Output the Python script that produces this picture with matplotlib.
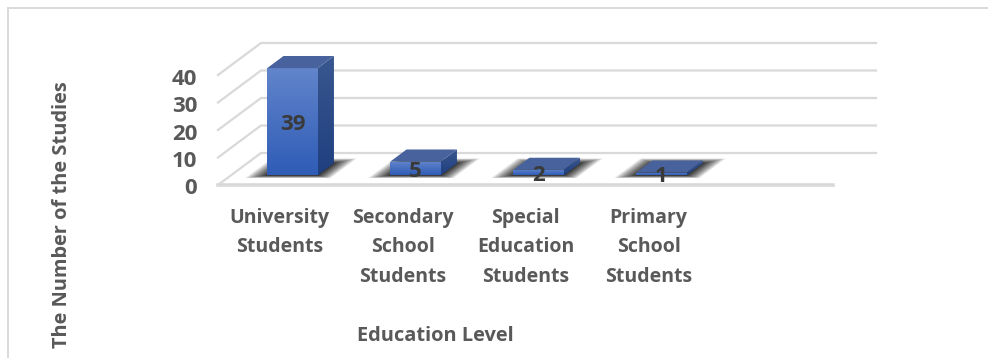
import matplotlib
matplotlib.use("Agg")
import matplotlib.pyplot as plt
import numpy as np
from matplotlib.colors import LinearSegmentedColormap
from matplotlib.lines import Line2D
from matplotlib.patches import Polygon
from matplotlib.transforms import ScaledTranslation

categories = ["University\nStudents", "Secondary\nSchool\nStudents",
              "Special\nEducation\nStudents", "Primary\nSchool\nStudents"]
studies = [39, 5, 2, 1]
y_ticks = [0, 10, 20, 30, 40]

TEXT = "#595959"
GRID = "#d9d9d9"

# oblique depth of the floor, in data units (x categories, y studies)
DEPTH_X = 43 / 123
DEPTH_Y = 32 / 2.75
BAR_W = 0.41
BAR_FRONT = 0.30
BAR_BACK = 0.68

front_cmap = LinearSegmentedColormap.from_list("front", ["#2f5cb6", "#6285cb"])
side_cmap = LinearSegmentedColormap.from_list("side", ["#1f3f7f", "#39578f"])


def proj(x, y, d):
    return x + d * DEPTH_X, y + d * DEPTH_Y


def gradient_face(ax, corners, cmap, z):
    xs = [c[0] for c in corners]
    ys = [c[1] for c in corners]
    im = ax.imshow(np.linspace(1, 0, 64).reshape(-1, 1), cmap=cmap, aspect="auto",
                   extent=(min(xs), max(xs), min(ys), max(ys)), zorder=z)
    # the faces stick out above the axes box because of the depth offset
    im.set_clip_box(ax.figure.bbox)
    im.set_clip_path(Polygon(corners, closed=True, transform=ax.transData))


def draw_shadow(ax, x):
    # soft shadow on the floor: stacked translucent parallelograms, denser near the bar
    for t in np.linspace(1, 0, 36):
        grow = 0.34 * t ** 1.3
        l = x - BAR_W / 2 - grow * 0.45
        r = x + BAR_W / 2 + grow * 0.4
        d0 = BAR_FRONT - grow * 0.25
        d1 = BAR_BACK + grow * 0.45
        pts = [proj(l, 0, d0), proj(r, 0, d0), proj(r, 0, d1), proj(l, 0, d1)]
        ax.add_patch(Polygon(pts, closed=True, fc="#000000", ec="none", alpha=0.04,
                             zorder=2, clip_on=False))


def draw_bar(ax, x, v):
    l, r = x - BAR_W / 2, x + BAR_W / 2
    front = [proj(l, 0, BAR_FRONT), proj(r, 0, BAR_FRONT), proj(r, v, BAR_FRONT), proj(l, v, BAR_FRONT)]
    side = [proj(r, 0, BAR_FRONT), proj(r, 0, BAR_BACK), proj(r, v, BAR_BACK), proj(r, v, BAR_FRONT)]
    top = [proj(l, v, BAR_FRONT), proj(r, v, BAR_FRONT), proj(r, v, BAR_BACK), proj(l, v, BAR_BACK)]
    gradient_face(ax, side, side_cmap, 3)
    gradient_face(ax, front, front_cmap, 3.1)
    ax.add_patch(Polygon(top, closed=True, fc="#47629c", ec="none", zorder=3.2, clip_on=False))
    cx, cy = proj(x, v / 2, BAR_FRONT)
    ax.text(cx, cy, str(v), ha="center", va="center_baseline", fontsize=16, fontweight="bold",
            color="#3a3a3a", zorder=5)


plt.rcParams["font.family"] = ["Open Sans", "DejaVu Sans"]

W, H = 988, 358
fig = plt.figure(figsize=(W / 100, H / 100), dpi=100)
ax = fig.add_axes([218 / W, 1 - 185 / H, 615 / W, 110 / H])
xpos = np.arange(len(categories))

# back wall and side wall gridlines
for v in y_ticks:
    x0, y0 = proj(-0.5, v, 0)
    x1, y1 = proj(-0.5, v, 1)
    x2, y2 = proj(4.5, v, 1)
    ax.plot([x0, x1, x2], [y0, y1, y2], color=GRID, lw=1.6, zorder=1, clip_on=False,
            solid_joinstyle="miter")
ax.plot([-0.5, 4.5], [0, 0], color=GRID, lw=2.6, zorder=1.5, clip_on=False)

for x, v in zip(xpos, studies):
    draw_shadow(ax, x)
for x, v in zip(xpos, studies):
    draw_bar(ax, x, v)

ax.set_xlim(-0.5, 4.5)
ax.set_ylim(0, 40)
ax.set_xticks(xpos)
ax.set_xticklabels(categories, fontsize=14, fontweight="bold", color=TEXT, linespacing=1.62)
ax.set_yticks(y_ticks)
ax.set_yticklabels([str(v) for v in y_ticks], fontsize=16, fontweight="bold", color=TEXT)
ax.tick_params(axis="x", length=0, pad=16.5)
ax.tick_params(axis="y", length=0, pad=15)
for lab in ax.get_yticklabels():
    lab.set_transform(lab.get_transform() + ScaledTranslation(0, -1.5 / 100, fig.dpi_scale_trans))
for s in ax.spines.values():
    s.set_visible(False)
ax.patch.set_visible(False)

fig.text(62 / W, 1 - 215 / H, "The Number of the Studies", rotation=90, ha="center", va="center",
         fontsize=14.4, fontweight="bold", color=TEXT)
fig.text(435 / W, 1 - 336 / H, "Education Level", ha="center", va="center",
         fontsize=14.4, fontweight="bold", color=TEXT)

# chart frame
for xs, ys in [((8, 8), (8, 358)), ((8, 988), (8, 8))]:
    fig.add_artist(Line2D([x / W for x in xs], [1 - y / H for y in ys], color=GRID, lw=1.4))

fig.savefig("out.png", dpi=100)
